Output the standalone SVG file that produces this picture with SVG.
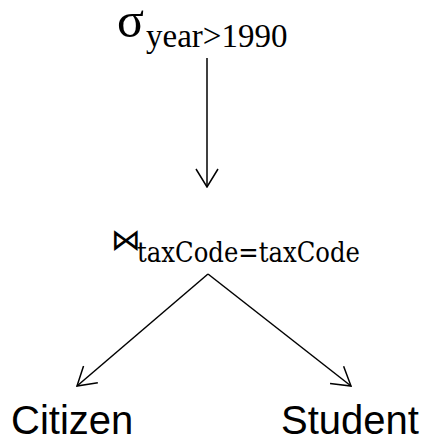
<svg xmlns="http://www.w3.org/2000/svg" width="426" height="441" viewBox="0 0 426 441">
  <style>
    .edge { fill: none; stroke: #000; stroke-width: 1.5; }
    .head { fill: none; stroke: #000; stroke-width: 1.5; stroke-linejoin: miter; stroke-linecap: butt; }
    .op { font-family: "Liberation Serif", "Times New Roman", serif; fill: #000; }
    .cond { font-family: "DejaVu Serif", serif; fill: #000; }
    .rel { font-family: "Liberation Sans", Arial, sans-serif; font-size: 40px; fill: #000; }
  </style>
  <defs>
    <marker id="open-arrow" viewBox="0 0 20 24" refX="19" refY="12" markerWidth="20" markerHeight="24" markerUnits="userSpaceOnUse" orient="auto">
      <path class="head" d="M1,1 L19,12 L1,23"/>
    </marker>
  </defs>

  <g id="selection">
    <text class="op" x="117" y="37" font-size="50">σ</text>
    <text class="op" x="146" y="47" font-size="33">year&gt;1990</text>
  </g>

  <g id="join">
    <text x="111" y="250" font-family="DejaVu Sans, sans-serif" font-size="30" fill="#000">⋈</text>
    <text class="cond" x="137" y="262" font-size="27" textLength="223" lengthAdjust="spacingAndGlyphs">taxCode=taxCode</text>
  </g>

  <g id="citizen">
    <text class="rel" x="11" y="434">Citizen</text>
  </g>

  <g id="student">
    <text class="rel" x="281" y="434">Student</text>
  </g>

  <g id="connectors">
    <line class="edge" x1="207" y1="58" x2="207" y2="187" marker-end="url(#open-arrow)"/>
    <line class="edge" x1="208" y1="274" x2="77" y2="386" marker-end="url(#open-arrow)"/>
    <line class="edge" x1="208" y1="274" x2="351" y2="386" marker-end="url(#open-arrow)"/>
  </g>
</svg>
